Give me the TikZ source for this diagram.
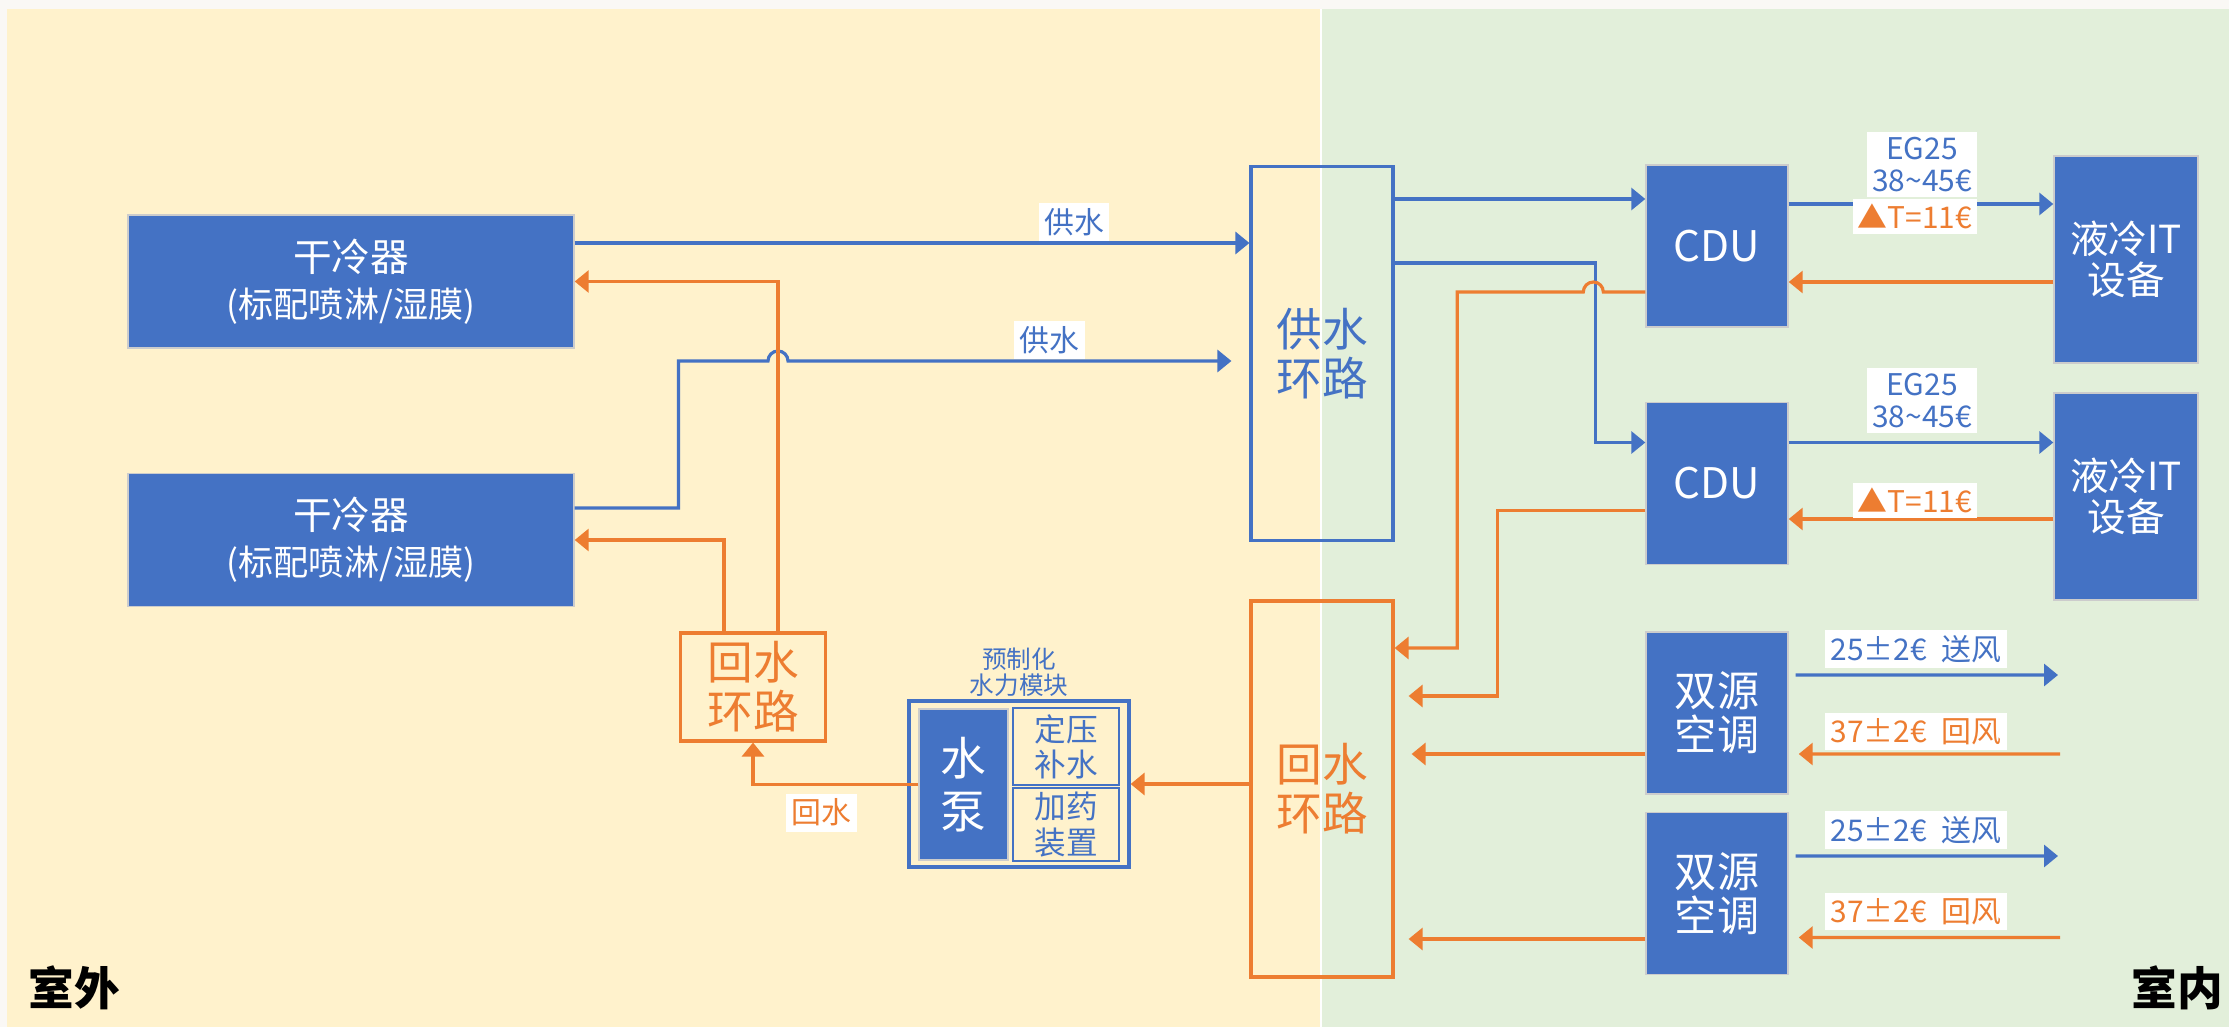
\documentclass[tikz,border=0pt]{standalone}
\usepackage{fontspec}
\setmainfont{Noto Sans CJK SC}
\usepackage{tikz}
\usetikzlibrary{arrows.meta,positioning,calc}
\definecolor{coolBlue}{RGB}{68,114,196}
\definecolor{hotOrange}{RGB}{237,125,49}
\definecolor{outdoorBg}{RGB}{255,242,204}
\definecolor{indoorBg}{RGB}{226,239,218}
\definecolor{pageBg}{RGB}{250,248,245}

\begin{document}
\begin{tikzpicture}[
    unit/.style={draw=gray!40, line width=0.4pt, fill=coolBlue, text=white,
      inner sep=0pt, align=center},
    loopbox/.style={line width=0.9pt, inner sep=0pt, align=center,
      font=\fontsize{13pt}{14pt}\selectfont},
    modbox/.style={draw=coolBlue, line width=0.8pt, inner sep=0pt, align=center},
    supply/.style={draw=coolBlue, line width=0.9pt},
    ret/.style={draw=hotOrange, line width=0.9pt},
    tag/.style={fill=white, inner sep=1.5pt, align=center,
      font=\fontsize{8.5pt}{9pt}\selectfont},
    >={Triangle[length=1.4mm,width=2.2mm]}
  ]
  % background: outdoor / indoor
  \useasboundingbox (0,0) rectangle (22.29,10.27);
  \fill[pageBg] (0,0) rectangle (22.29,10.27);
  \fill[outdoorBg] (0.07,0) rectangle (13.21,10.18);
  \fill[indoorBg] (13.21,0) rectangle (22.29,10.18);
  \draw[white, line width=0.6pt] (13.21,0) -- (13.21,10.18);
  \node[font=\fontsize{13pt}{15pt}\selectfont\bfseries] (outdoor) at (0.745,0.395) {室外};
  \node[font=\fontsize{13pt}{15pt}\selectfont\bfseries] (indoor) at (21.775,0.39) {室内};

  % dry coolers
  \node[unit, minimum width=4.46cm, minimum height=1.33cm,
    font=\fontsize{11pt}{13pt}\selectfont] (dc1) at (3.51,7.455)
    {干冷器\\{\fontsize{10pt}{12pt}\selectfont(标配喷淋/湿膜)}};
  \node[unit, minimum width=4.46cm, minimum height=1.33cm,
    font=\fontsize{11pt}{13pt}\selectfont] (dc2) at (3.51,4.87)
    {干冷器\\{\fontsize{10pt}{12pt}\selectfont(标配喷淋/湿膜)}};

  % loops
  \node[loopbox, draw=coolBlue, text=coolBlue, minimum width=1.42cm,
    minimum height=3.74cm] (supLoop) at (13.22,6.735) {供水\\环路};
  \node[loopbox, draw=hotOrange, text=hotOrange, minimum width=1.42cm,
    minimum height=3.76cm] (retLoop) at (13.22,2.38) {回水\\环路};
  \node[loopbox, draw=hotOrange, text=hotOrange, minimum width=1.45cm,
    minimum height=1.08cm] (retLoopOut) at (7.53,3.40) {回水\\环路};

  % hydraulic module
  \node[modbox, line width=0.9pt, minimum width=2.20cm, minimum height=1.66cm] (hyd) at (10.19,2.43) {};
  \node[unit, minimum width=0.89cm, minimum height=1.51cm,
    font=\fontsize{13pt}{15pt}\selectfont] (pump) at (9.635,2.425) {水\\泵};
  \node[modbox, text=coolBlue, minimum width=1.06cm, minimum height=0.77cm,
    font=\fontsize{9pt}{10pt}\selectfont] (press) at (10.66,2.805) {定压\\补水};
  \node[modbox, text=coolBlue, minimum width=1.06cm, minimum height=0.73cm,
    font=\fontsize{9pt}{10pt}\selectfont] (dose) at (10.66,2.025) {加药\\装置};
  \node[text=coolBlue, align=center, inner sep=0.5pt, above=0pt of hyd,
    font=\fontsize{7pt}{7.4pt}\selectfont] (hydLabel) {预制化\\水力模块};

  % CDUs, IT, air conditioners
  \node[unit, minimum width=1.42cm, minimum height=1.62cm,
    font=\fontsize{12pt}{14pt}\selectfont] (cdu1) at (17.17,7.81) {CDU};
  \node[unit, minimum width=1.42cm, minimum height=1.62cm,
    font=\fontsize{12pt}{14pt}\selectfont] (cdu2) at (17.17,5.435) {CDU};
  \node[unit, minimum width=1.44cm, minimum height=2.07cm,
    font=\fontsize{11pt}{11.6pt}\selectfont] (it1) at (21.26,7.675) {液冷IT\\设备};
  \node[unit, minimum width=1.44cm, minimum height=2.07cm,
    font=\fontsize{11pt}{11.6pt}\selectfont] (it2) at (21.26,5.305) {液冷IT\\设备};
  \node[unit, minimum width=1.42cm, minimum height=1.62cm,
    font=\fontsize{12pt}{12.5pt}\selectfont] (ac1) at (17.17,3.14) {双源\\空调};
  \node[unit, minimum width=1.42cm, minimum height=1.62cm,
    font=\fontsize{12pt}{12.5pt}\selectfont] (ac2) at (17.17,1.335) {双源\\空调};

  % free ends of the air lines
  \coordinate (ac1Out) at (20.58,3.52);
  \coordinate (ac1In) at (20.60,2.73);
  \coordinate (ac2Out) at (20.58,1.71);
  \coordinate (ac2In) at (20.60,0.895);
  \coordinate (dc2Bend) at (6.785,6.66);

  % outdoor piping
  \draw[supply,->] ([yshift=3.85mm]dc1.east) -- ([yshift=3.85mm]dc1.east -| supLoop.west)
    node[tag, text=coolBlue, above, pos=0.74] {供水};
  \draw[supply,->] ([yshift=3.2mm]dc2.east) -| (dc2Bend) -- ++(0.895,0)
    arc[start angle=180, end angle=0, radius=1mm] -- ([xshift=-1.8mm]dc2Bend -| supLoop.west)
    node[tag, text=coolBlue, above, pos=0.59] {供水};
  \draw[ret,->] ([xshift=2.5mm]retLoopOut.north) |- (dc1.east);
  \draw[ret,->] ([xshift=-2.9mm]retLoopOut.north) |- (dc2.east);
  \draw[ret,->] (pump.west) -| (retLoopOut.south);
  \node[tag, text=hotOrange] (retTag) at (8.215,2.145) {回水};
  \draw[ret,->] (hyd.east -| retLoop.west) -- (hyd.east);

  % indoor piping
  \draw[supply,->] ([yshift=4.7mm]cdu1.west -| supLoop.east) -- ([yshift=4.7mm]cdu1.west);
  \draw[supply,->] ([yshift=9.05mm]supLoop.east) -- ++(2.01,0) |- ([yshift=4.1mm]cdu2.west);
  \draw[ret,->] ([yshift=-4.6mm]cdu1.west) -- ++(-0.42,0)
    arc[start angle=0, end angle=180, radius=1mm] -- ++(-1.26,0)
    |- ([yshift=14.1mm]retLoop.east);
  \draw[ret,->] ([yshift=-2.7mm]cdu2.west) -- ++(-1.48,0)
    |- ([xshift=1.4mm,yshift=9.3mm]retLoop.east);
  \draw[ret,->] ([yshift=-4.1mm]ac1.west) -- ([xshift=1.7mm,yshift=-4.1mm]ac1.west -| retLoop.east);
  \draw[ret,->] ([yshift=-4.55mm]ac2.west) -- ([xshift=1.4mm,yshift=-4.55mm]ac2.west -| retLoop.east);

  % CDU <-> IT
  \draw[supply,->] ([yshift=4.2mm]cdu1.east) -- ([yshift=4.2mm]cdu1.east -| it1.west);
  \draw[ret,->] ([yshift=-3.6mm]cdu1.east -| it1.west) -- ([yshift=-3.6mm]cdu1.east);
  \draw[supply,->] ([yshift=4.1mm]cdu2.east) -- ([yshift=4.1mm]cdu2.east -| it2.west);
  \draw[ret,->] ([yshift=-3.55mm]cdu2.east -| it2.west) -- ([yshift=-3.55mm]cdu2.east);
  \node[tag, text=coolBlue] (eg1) at (19.22,8.625) {EG25\\38\textasciitilde45€};
  \node[tag, text=hotOrange] (dt1) at (19.15,8.105) {▲T=11€};
  \node[tag, text=coolBlue] (eg2) at (19.22,6.265) {EG25\\38\textasciitilde45€};
  \node[tag, text=hotOrange] (dt2) at (19.15,5.265) {▲T=11€};

  % air side
  \draw[supply,->] ([xshift=0.7mm,yshift=3.8mm]ac1.east) -- (ac1Out);
  \draw[ret,->] (ac1In) -- ([xshift=1mm,yshift=-4.1mm]ac1.east);
  \draw[supply,->] ([xshift=0.7mm,yshift=3.75mm]ac2.east) -- (ac2Out);
  \draw[ret,->] (ac2In) -- ([xshift=1mm,yshift=-4.4mm]ac2.east);
  \node[tag, text=coolBlue] (sup1) at (19.16,3.78) {25±2€\hspace{0.5em}送风};
  \node[tag, text=hotOrange] (back1) at (19.16,2.955) {37±2€\hspace{0.5em}回风};
  \node[tag, text=coolBlue] (sup2) at (19.16,1.97) {25±2€\hspace{0.5em}送风};
  \node[tag, text=hotOrange] (back2) at (19.16,1.155) {37±2€\hspace{0.5em}回风};
\end{tikzpicture}
\end{document}
